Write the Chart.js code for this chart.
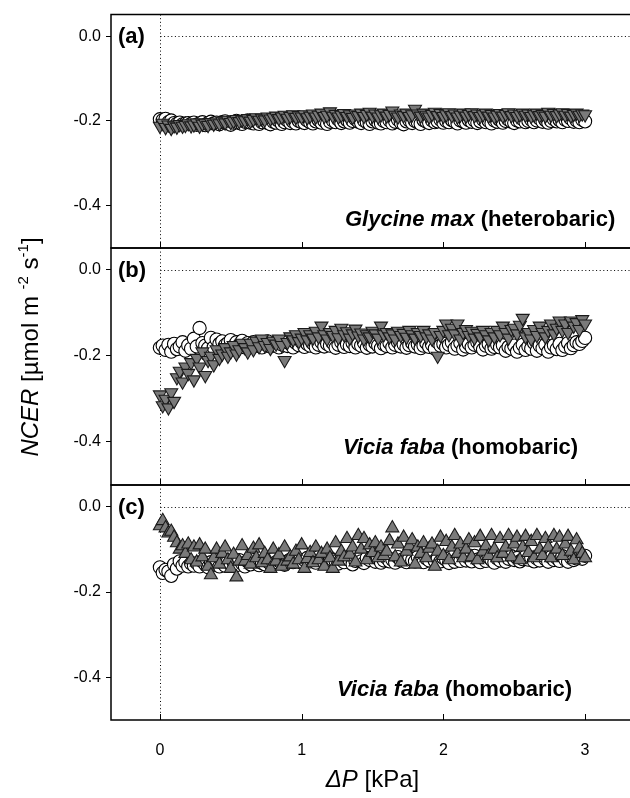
<!DOCTYPE html>
<html>
<head>
<meta charset="utf-8">
<script src="https://cdn.jsdelivr.net/npm/chart.js@4.4.1/dist/chart.umd.min.js"></script>
<style>
  html, body { margin: 0; padding: 0; background: #fff; }
  #wrap { position: relative; width: 630px; height: 798px; }
  #wrap canvas { position: absolute; left: 0; top: 0; }
</style>
</head>
<body>
<div id="wrap">
  <canvas id="panelA" width="630" height="798"></canvas>
  <canvas id="panelB" width="630" height="798"></canvas>
  <canvas id="panelC" width="630" height="798"></canvas>
</div>
<script>
// ΔP [kPa], shared by all three panels (rows of 10)
const dP = [0.00,0.02,0.04,0.06,0.08,0.10,0.12,0.14,0.16,0.18,
  0.20,0.22,0.24,0.26,0.28,0.30,0.32,0.34,0.36,0.38,
  0.40,0.42,0.44,0.46,0.48,0.50,0.52,0.54,0.56,0.58,
  0.60,0.62,0.64,0.66,0.68,0.70,0.72,0.74,0.76,0.78,
  0.80,0.82,0.84,0.86,0.88,0.90,0.92,0.94,0.96,0.98,
  1.00,1.02,1.04,1.06,1.08,1.10,1.12,1.14,1.16,1.18,
  1.20,1.22,1.24,1.26,1.28,1.30,1.32,1.34,1.36,1.38,
  1.40,1.42,1.44,1.46,1.48,1.50,1.52,1.54,1.56,1.58,
  1.60,1.62,1.64,1.66,1.68,1.70,1.72,1.74,1.76,1.78,
  1.80,1.82,1.84,1.86,1.88,1.90,1.92,1.94,1.96,1.98,
  2.00,2.02,2.04,2.06,2.08,2.10,2.12,2.14,2.16,2.18,
  2.20,2.22,2.24,2.26,2.28,2.30,2.32,2.34,2.36,2.38,
  2.40,2.42,2.44,2.46,2.48,2.50,2.52,2.54,2.56,2.58,
  2.60,2.62,2.64,2.66,2.68,2.70,2.72,2.74,2.76,2.78,
  2.80,2.82,2.84,2.86,2.88,2.90,2.92,2.94,2.96,2.98,
  3.00];

// (a) Glycine max
const aCircles = [-0.196,-0.198,-0.195,-0.203,-0.199,-0.205,-0.207,-0.204,-0.208,-0.206,
  -0.205,-0.207,-0.204,-0.209,-0.206,-0.203,-0.210,-0.205,-0.202,-0.206,
  -0.204,-0.208,-0.203,-0.201,-0.206,-0.209,-0.204,-0.200,-0.205,-0.207,
  -0.202,-0.199,-0.204,-0.206,-0.201,-0.207,-0.203,-0.198,-0.205,-0.208,
  -0.202,-0.204,-0.200,-0.207,-0.203,-0.199,-0.205,-0.202,-0.206,-0.200,
  -0.203,-0.205,-0.199,-0.203,-0.206,-0.201,-0.198,-0.204,-0.200,-0.207,
  -0.202,-0.199,-0.203,-0.197,-0.205,-0.201,-0.198,-0.204,-0.200,-0.196,
  -0.202,-0.205,-0.199,-0.203,-0.207,-0.201,-0.198,-0.204,-0.206,-0.200,
  -0.203,-0.199,-0.206,-0.202,-0.197,-0.204,-0.208,-0.201,-0.199,-0.205,
  -0.200,-0.203,-0.207,-0.198,-0.202,-0.205,-0.199,-0.203,-0.201,-0.197,
  -0.204,-0.200,-0.203,-0.198,-0.202,-0.206,-0.199,-0.201,-0.204,-0.198,
  -0.202,-0.199,-0.205,-0.201,-0.197,-0.203,-0.200,-0.206,-0.199,-0.202,
  -0.198,-0.204,-0.200,-0.197,-0.202,-0.205,-0.199,-0.201,-0.196,-0.203,
  -0.200,-0.197,-0.203,-0.199,-0.195,-0.202,-0.198,-0.204,-0.200,-0.196,
  -0.201,-0.198,-0.203,-0.197,-0.200,-0.195,-0.202,-0.199,-0.203,-0.197,
  -0.201];
const aTriangles = [-0.212,-0.205,-0.215,-0.209,-0.217,-0.211,-0.214,-0.208,-0.212,-0.210,
  -0.206,-0.211,-0.209,-0.204,-0.212,-0.207,-0.205,-0.210,-0.203,-0.207,
  -0.202,-0.206,-0.200,-0.204,-0.198,-0.203,-0.200,-0.196,-0.201,-0.197,
  -0.199,-0.194,-0.200,-0.196,-0.192,-0.198,-0.193,-0.197,-0.190,-0.195,
  -0.192,-0.188,-0.194,-0.190,-0.186,-0.193,-0.189,-0.185,-0.191,-0.187,
  -0.190,-0.185,-0.192,-0.188,-0.183,-0.190,-0.186,-0.181,-0.189,-0.186,
  -0.178,-0.188,-0.184,-0.190,-0.186,-0.182,-0.189,-0.185,-0.191,-0.183,
  -0.187,-0.181,-0.189,-0.184,-0.179,-0.188,-0.183,-0.190,-0.185,-0.181,
  -0.188,-0.184,-0.176,-0.186,-0.190,-0.183,-0.187,-0.181,-0.189,-0.185,
  -0.172,-0.183,-0.188,-0.181,-0.186,-0.190,-0.184,-0.179,-0.187,-0.182,
  -0.189,-0.185,-0.180,-0.187,-0.183,-0.190,-0.186,-0.181,-0.188,-0.184,
  -0.180,-0.187,-0.183,-0.189,-0.185,-0.181,-0.188,-0.184,-0.190,-0.186,
  -0.182,-0.188,-0.184,-0.180,-0.187,-0.183,-0.189,-0.185,-0.181,-0.186,
  -0.183,-0.189,-0.185,-0.181,-0.187,-0.184,-0.188,-0.179,-0.186,-0.182,
  -0.187,-0.183,-0.180,-0.186,-0.182,-0.188,-0.184,-0.181,-0.186,-0.183,
  -0.185];

// (b) Vicia faba
const bCircles = [-0.181,-0.176,-0.186,-0.174,-0.190,-0.172,-0.184,-0.178,-0.168,-0.188,
  -0.175,-0.183,-0.160,-0.178,-0.135,-0.170,-0.176,-0.182,-0.158,-0.180,
  -0.162,-0.172,-0.166,-0.175,-0.170,-0.163,-0.178,-0.168,-0.174,-0.165,
  -0.180,-0.170,-0.175,-0.168,-0.176,-0.170,-0.180,-0.172,-0.166,-0.178,
  -0.174,-0.169,-0.180,-0.173,-0.168,-0.177,-0.172,-0.180,-0.170,-0.175,
  -0.168,-0.179,-0.172,-0.176,-0.171,-0.180,-0.174,-0.168,-0.178,-0.172,
  -0.176,-0.170,-0.181,-0.174,-0.168,-0.179,-0.173,-0.177,-0.170,-0.180,
  -0.172,-0.176,-0.169,-0.181,-0.174,-0.178,-0.170,-0.176,-0.182,-0.173,
  -0.177,-0.170,-0.180,-0.174,-0.168,-0.178,-0.173,-0.181,-0.175,-0.170,
  -0.178,-0.173,-0.182,-0.176,-0.170,-0.179,-0.174,-0.183,-0.168,-0.176,
  -0.172,-0.180,-0.174,-0.168,-0.183,-0.176,-0.170,-0.185,-0.178,-0.172,
  -0.180,-0.174,-0.168,-0.178,-0.185,-0.176,-0.172,-0.183,-0.179,-0.174,
  -0.180,-0.175,-0.188,-0.179,-0.183,-0.176,-0.190,-0.181,-0.174,-0.186,
  -0.178,-0.183,-0.170,-0.188,-0.176,-0.182,-0.174,-0.190,-0.180,-0.175,
  -0.184,-0.172,-0.186,-0.178,-0.170,-0.182,-0.175,-0.168,-0.172,-0.165,
  -0.158];
const bTriangles = [-0.290,-0.315,-0.300,-0.320,-0.285,-0.305,-0.250,-0.235,-0.260,-0.225,
  -0.240,-0.215,-0.255,-0.205,-0.225,-0.190,-0.245,-0.210,-0.200,-0.220,
  -0.185,-0.205,-0.195,-0.180,-0.200,-0.190,-0.175,-0.195,-0.185,-0.170,
  -0.180,-0.190,-0.170,-0.185,-0.165,-0.178,-0.160,-0.175,-0.168,-0.182,
  -0.165,-0.172,-0.160,-0.175,-0.210,-0.168,-0.155,-0.162,-0.150,-0.166,
  -0.158,-0.145,-0.162,-0.150,-0.158,-0.142,-0.155,-0.130,-0.150,-0.160,
  -0.145,-0.152,-0.140,-0.157,-0.135,-0.150,-0.143,-0.158,-0.148,-0.137,
  -0.153,-0.146,-0.160,-0.150,-0.155,-0.142,-0.148,-0.158,-0.130,-0.150,
  -0.145,-0.155,-0.148,-0.160,-0.142,-0.152,-0.147,-0.156,-0.140,-0.150,
  -0.158,-0.145,-0.152,-0.140,-0.155,-0.148,-0.160,-0.145,-0.200,-0.152,
  -0.140,-0.125,-0.150,-0.135,-0.148,-0.125,-0.160,-0.145,-0.138,-0.152,
  -0.142,-0.158,-0.147,-0.155,-0.140,-0.150,-0.162,-0.145,-0.155,-0.140,
  -0.150,-0.130,-0.145,-0.158,-0.138,-0.135,-0.148,-0.128,-0.112,-0.155,
  -0.145,-0.160,-0.138,-0.152,-0.130,-0.145,-0.155,-0.140,-0.125,-0.148,
  -0.135,-0.118,-0.140,-0.125,-0.145,-0.118,-0.130,-0.122,-0.138,-0.115,
  -0.125];

// (c) Vicia faba
const cCircles = [-0.142,-0.155,-0.148,-0.152,-0.162,-0.135,-0.145,-0.128,-0.138,-0.130,
  -0.140,-0.133,-0.138,-0.132,-0.140,-0.128,-0.135,-0.142,-0.130,-0.136,
  -0.125,-0.140,-0.132,-0.138,-0.128,-0.135,-0.130,-0.137,-0.125,-0.133,
  -0.140,-0.128,-0.135,-0.125,-0.130,-0.137,-0.132,-0.135,-0.128,-0.134,
  -0.122,-0.130,-0.127,-0.133,-0.136,-0.128,-0.124,-0.130,-0.122,-0.127,
  -0.131,-0.125,-0.120,-0.128,-0.124,-0.131,-0.118,-0.126,-0.122,-0.130,
  -0.120,-0.125,-0.128,-0.133,-0.124,-0.130,-0.121,-0.126,-0.135,-0.127,
  -0.122,-0.128,-0.132,-0.120,-0.125,-0.118,-0.129,-0.122,-0.131,-0.126,
  -0.120,-0.128,-0.124,-0.131,-0.118,-0.126,-0.122,-0.130,-0.120,-0.125,
  -0.128,-0.118,-0.124,-0.130,-0.121,-0.126,-0.117,-0.127,-0.122,-0.128,
  -0.120,-0.125,-0.132,-0.118,-0.129,-0.122,-0.127,-0.116,-0.126,-0.120,
  -0.128,-0.115,-0.124,-0.130,-0.120,-0.127,-0.118,-0.125,-0.131,-0.121,
  -0.126,-0.118,-0.129,-0.122,-0.116,-0.125,-0.120,-0.128,-0.123,-0.117,
  -0.124,-0.119,-0.128,-0.121,-0.126,-0.114,-0.123,-0.129,-0.118,-0.125,
  -0.120,-0.127,-0.116,-0.124,-0.129,-0.119,-0.125,-0.121,-0.117,-0.122,
  -0.115];
const cTriangles = [-0.045,-0.033,-0.050,-0.062,-0.058,-0.072,-0.085,-0.100,-0.092,-0.110,
  -0.088,-0.125,-0.095,-0.130,-0.090,-0.118,-0.100,-0.140,-0.160,-0.120,
  -0.100,-0.135,-0.110,-0.095,-0.125,-0.145,-0.112,-0.165,-0.128,-0.092,
  -0.128,-0.115,-0.135,-0.098,-0.120,-0.090,-0.132,-0.110,-0.125,-0.145,
  -0.100,-0.128,-0.113,-0.140,-0.095,-0.128,-0.118,-0.135,-0.105,-0.125,
  -0.090,-0.145,-0.122,-0.108,-0.132,-0.095,-0.125,-0.110,-0.140,-0.100,
  -0.120,-0.145,-0.085,-0.128,-0.105,-0.118,-0.075,-0.112,-0.095,-0.130,
  -0.068,-0.100,-0.075,-0.125,-0.090,-0.108,-0.085,-0.120,-0.095,-0.115,
  -0.105,-0.080,-0.050,-0.118,-0.088,-0.130,-0.072,-0.105,-0.092,-0.078,
  -0.135,-0.095,-0.110,-0.085,-0.120,-0.098,-0.088,-0.140,-0.105,-0.072,
  -0.115,-0.082,-0.125,-0.095,-0.068,-0.110,-0.088,-0.120,-0.100,-0.078,
  -0.118,-0.085,-0.125,-0.070,-0.105,-0.092,-0.115,-0.068,-0.100,-0.120,
  -0.075,-0.110,-0.095,-0.068,-0.118,-0.088,-0.072,-0.125,-0.095,-0.070,
  -0.108,-0.082,-0.120,-0.068,-0.100,-0.115,-0.075,-0.095,-0.120,-0.068,
  -0.100,-0.072,-0.115,-0.088,-0.070,-0.105,-0.125,-0.078,-0.098,-0.110,
  -0.120];

const yTicks = [-0.4, -0.2, 0.0];
const xTicks = [0, 1, 2, 3];
const panelLetters = ['(a)', '(b)', '(c)'];
const speciesNames = ['Glycine max', 'Vicia faba', 'Vicia faba'];
const speciesKinds = [' (heterobaric)', ' (homobaric)', ' (homobaric)'];

const FONT = 'Arial, "Liberation Sans", sans-serif';

function pts(xs, ys) {
  return xs.map((x, i) => ({ x: x, y: ys[i] }));
}

// draws a row of text pieces with different fonts
function drawRuns(ctx, runs, x, y, align) {
  let total = 0;
  runs.forEach(r => { ctx.font = r.font; r.w = ctx.measureText(r.text).width; total += r.w; });
  let cx = align === 'center' ? x - total / 2 : (align === 'right' ? x - total : x);
  ctx.textAlign = 'left';
  ctx.textBaseline = 'alphabetic';
  runs.forEach(r => {
    ctx.font = r.font;
    ctx.fillText(r.text, cx, y + (r.dy || 0));
    cx += r.w;
  });
}

const panelDeco = {
  id: 'panelDeco',
  beforeDatasetsDraw(chart, args, o) {
    const { ctx, chartArea: a } = chart;
    const x = chart.scales.x, y = chart.scales.y;
    const x0 = Math.round(x.getPixelForValue(0)) + 0.5;
    const y0 = Math.round(y.getPixelForValue(0)) + 0.5;
    ctx.save();
    ctx.strokeStyle = '#000';
    ctx.lineWidth = 1;
    ctx.setLineDash([1, 2.6]);
    ctx.beginPath();
    ctx.moveTo(x0, a.top); ctx.lineTo(x0, a.bottom);
    ctx.moveTo(x0, y0); ctx.lineTo(a.right, y0);
    ctx.stroke();
    ctx.restore();
  },
  afterDraw(chart, args, o) {
    const { ctx, chartArea: a } = chart;
    const x = chart.scales.x, y = chart.scales.y;
    ctx.save();
    // frame (no right side, it is cut off in the figure)
    ctx.strokeStyle = '#000';
    ctx.lineWidth = 1.5;
    ctx.beginPath();
    ctx.moveTo(a.right, a.top); ctx.lineTo(a.left, a.top); ctx.lineTo(a.left, a.bottom); ctx.lineTo(a.right, a.bottom);
    ctx.stroke();
    // x ticks pointing inward
    ctx.lineWidth = 1;
    ctx.beginPath();
    xTicks.forEach(v => {
      const px = Math.round(x.getPixelForValue(v)) + 0.5;
      ctx.moveTo(px, a.bottom); ctx.lineTo(px, a.bottom - 6);
    });
    ctx.stroke();

    ctx.fillStyle = '#000';
    const zeroY = y.getPixelForValue(0);
    drawRuns(ctx, [{ text: o.letter, font: 'bold 22px ' + FONT }], a.left + 7, zeroY + 7, 'left');
    drawRuns(ctx, [
      { text: o.name, font: 'italic bold 22px ' + FONT },
      { text: o.kind, font: 'bold 22px ' + FONT }
    ], o.textLeft, a.bottom - o.textBottom, 'left');

    if (o.titles) {
      // x axis title
      drawRuns(ctx, [
        { text: '\u0394P', font: 'italic 24px ' + FONT },
        { text: ' [kPa]', font: '24px ' + FONT }
      ], (a.left + a.right) / 2 + 2, 787, 'center');
      // y axis title, rotated
      ctx.translate(38, 347);
      ctx.rotate(-Math.PI / 2);
      drawRuns(ctx, [
        { text: 'NCER', font: 'italic 24px ' + FONT },
        { text: ' [\u00b5mol m ', font: '24px ' + FONT },
        { text: '-2', font: '15px ' + FONT, dy: -10 },
        { text: ' s', font: '24px ' + FONT },
        { text: '-1', font: '15px ' + FONT, dy: -10 },
        { text: ']', font: '24px ' + FONT }
      ], 0, 0, 'center');
    }
    ctx.restore();
  }
};

function makePanel(id, idx, circles, tris, triRotation, band, showX, textPos) {
  return new Chart(document.getElementById(id), {
    type: 'scatter',
    data: {
      datasets: [
        {
          data: pts(dP, tris),
          pointStyle: 'triangle',
          rotation: triRotation,
          pointRadius: 7.5,
          backgroundColor: '#7a7a7a',
          borderColor: '#1a1a1a',
          borderWidth: 1.1
        },
        {
          data: pts(dP, circles),
          pointStyle: 'circle',
          pointRadius: 6.6,
          backgroundColor: '#ffffff',
          borderColor: '#000000',
          borderWidth: 1.1
        }
      ]
    },
    options: {
      responsive: false,
      animation: false,
      devicePixelRatio: 1,
      layout: {
        autoPadding: false,
        padding: { top: band[0], bottom: showX ? 0 : 798 - band[1], left: 0, right: 0 }
      },
      plugins: {
        legend: { display: false },
        tooltip: { enabled: false },
        panelDeco: {
          letter: panelLetters[idx],
          name: speciesNames[idx],
          kind: speciesKinds[idx],
          textLeft: textPos[0],
          textBottom: textPos[1],
          titles: showX
        }
      },
      scales: {
        x: {
          type: 'linear',
          display: showX,
          min: -0.345,
          max: 3.317,
          afterBuildTicks: s => { s.ticks = xTicks.map(v => ({ value: v })); },
          afterFit: s => { if (showX) s.height = 798 - band[1]; },
          grid: { display: false },
          border: { display: false },
          ticks: {
            color: '#000',
            font: { family: FONT, size: 16 },
            padding: 13,
            maxRotation: 0,
            callback: v => String(v)
          }
        },
        y: {
          min: -0.5,
          max: 0.051,
          afterBuildTicks: s => { s.ticks = yTicks.map(v => ({ value: v })); },
          afterFit: s => { s.width = 111; },
          grid: { display: true, drawOnChartArea: false, drawTicks: true, tickLength: 5, color: '#000', lineWidth: 1 },
          border: { display: false },
          ticks: {
            color: '#000',
            font: { family: FONT, size: 16 },
            padding: 5,
            callback: v => v.toFixed(1)
          }
        }
      }
    },
    plugins: [panelDeco]
  });
}

makePanel('panelA', 0, aCircles, aTriangles, 180, [12, 248], false, [345, 22]);
makePanel('panelB', 1, bCircles, bTriangles, 180, [248, 485], false, [343, 31]);
makePanel('panelC', 2, cCircles, cTriangles, 0, [485, 720], true, [337, 24]);
</script>
</body>
</html>
